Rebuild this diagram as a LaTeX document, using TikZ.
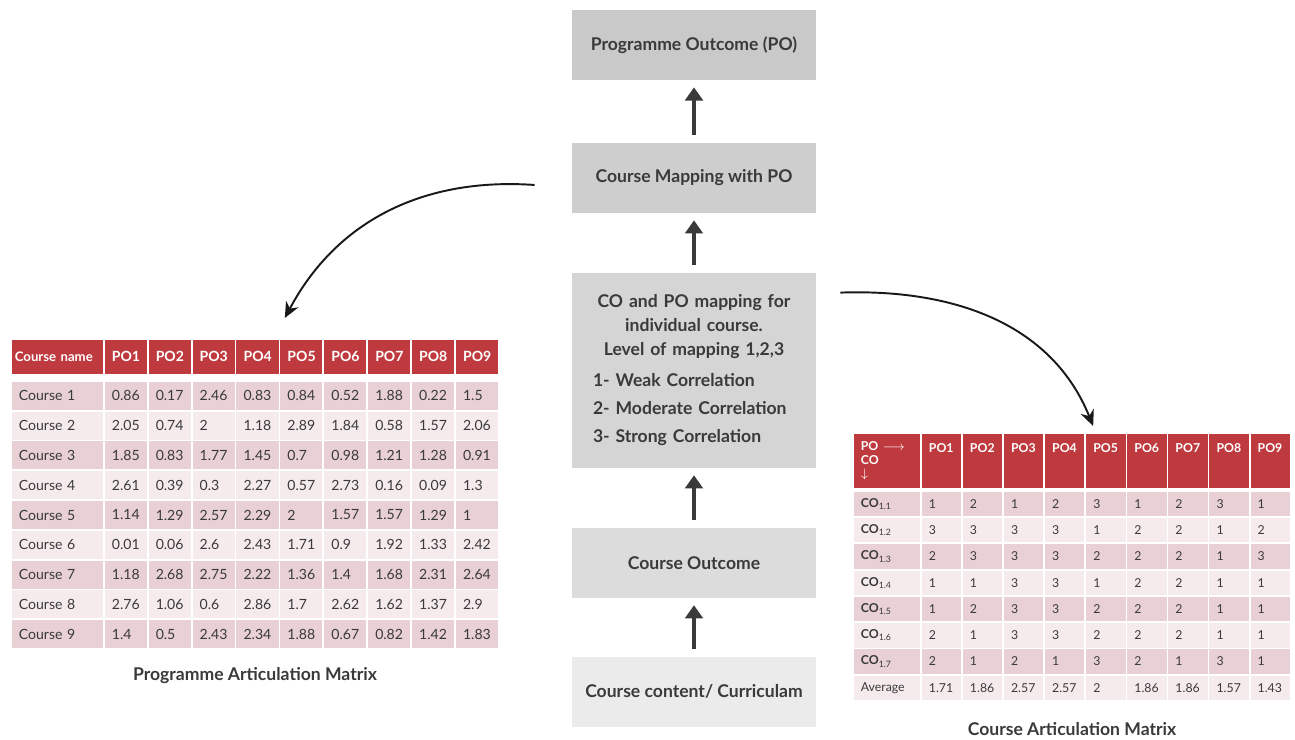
\documentclass[tikz,border=0pt]{standalone}
\usepackage{fontspec}
\setmainfont{Lato}
\usetikzlibrary{shapes,arrows,arrows.meta,positioning}

\definecolor{hdrred}{HTML}{BF3A3E}
\definecolor{rowpink}{HTML}{E8D0D5}
\definecolor{rowlight}{HTML}{F5EBED}
\definecolor{ink}{HTML}{3A3A3A}
\definecolor{boxa}{HTML}{C9C9C9}
\definecolor{boxb}{HTML}{CECECE}
\definecolor{boxc}{HTML}{D5D5D5}
\definecolor{boxd}{HTML}{DCDCDC}
\definecolor{boxe}{HTML}{EBEBEB}
\newcommand{\colabel}[1]{\textbf{CO}\textsubscript{1.#1}}

\tikzset{
  stage/.style={rectangle, minimum width=4.88cm, minimum height=1.4cm, text=ink,
    font=\fontsize{10}{13.6}\selectfont\bfseries},
  flow/.style={-{Triangle[width=10pt,length=7.5pt]}, line width=2.8pt, draw=ink,
    shorten <=0.16cm, shorten >=0.14cm},
  link/.style={-{Stealth[width=8pt,length=9pt]}, line width=1.1pt, draw=black!90},
  pamhead/.style={draw=white, line width=1pt, fill=hdrred, text=white, anchor=north west,
    minimum height=0.72cm, inner xsep=0.16cm, inner ysep=0pt, text width=#1,
    font=\fontsize{8}{9}\selectfont\bfseries},
  pamcell/.style={draw=white, line width=1pt, anchor=north west, text=ink,
    minimum height=0.596cm, inner xsep=0.16cm, inner ysep=0pt, text width=#1,
    font=\fontsize{8}{9}\selectfont},
  camhead/.style={pamhead=#1, minimum height=1.12cm, font=\fontsize{7}{7.6}\selectfont\bfseries},
  camcell/.style={pamcell=#1, minimum height=0.525cm, font=\fontsize{7}{8}\selectfont},
  caption/.style={text=ink, font=\fontsize{10}{12}\selectfont\bfseries}
}

\begin{document}
\begin{tikzpicture}[x=0.02cm, y=0.02cm]
  \useasboundingbox (0,0) rectangle (1295,-740);

  % centre column
  \node[stage, fill=boxa] (po) at (694,-45) {Programme Outcome (PO)};
  \node[stage, fill=boxb, below of=po, node distance=2.66cm] (cmap) {Course Mapping with PO};
  \node[stage, fill=boxc, below of=cmap, node distance=3.85cm, minimum height=3.9cm,
        text width=4.6cm] (mapco)
        {{\centering CO and PO mapping for\\individual course.\\Level of mapping 1,2,3\par}
         \vspace{4pt}
         {\raggedright\leftskip=0.28cm 1- Weak Correlation\\[2.4pt]2- Moderate Correlation\\[2.4pt]3- Strong Correlation\par}};
  \node[stage, fill=boxd, below of=mapco, node distance=3.85cm] (cout) {Course Outcome};
  \node[stage, fill=boxe, below of=cout, node distance=2.58cm] (ccont) {Course content/ Curriculam};

  \draw[flow] (ccont) -- (cout);
  \draw[flow] (cout) -- (mapco);
  \draw[flow] (mapco) -- (cmap);
  \draw[flow] (cmap) -- (po);

  % programme articulation matrix
  \node[pamhead=1.7cm, inner xsep=0.08cm, font=\fontsize{7.5}{9}\selectfont\bfseries] (pam-h-0) at (10,-338) {Course name};
  \foreach \cl in {1,...,9}
    \node[pamhead=0.558cm] (pam-h-\cl) at ({103+(\cl-1)*43.9},-338) {PO\cl};

  \foreach \vals [count=\rw] in {
      {0.86,0.17,2.46,0.83,0.84,0.52,1.88,0.22,1.5},
      {2.05,0.74,2,1.18,2.89,1.84,0.58,1.57,2.06},
      {1.85,0.83,1.77,1.45,0.7,0.98,1.21,1.28,0.91},
      {2.61,0.39,0.3,2.27,0.57,2.73,0.16,0.09,1.3},
      {1.14,1.29,2.57,2.29,2,1.57,1.57,1.29,1},
      {0.01,0.06,2.6,2.43,1.71,0.9,1.92,1.33,2.42},
      {1.18,2.68,2.75,2.22,1.36,1.4,1.68,2.31,2.64},
      {2.76,1.06,0.6,2.86,1.7,2.62,1.62,1.37,2.9},
      {1.4,0.5,2.43,2.34,1.88,0.67,0.82,1.42,1.83}}{
    \ifodd\rw \def\rowfill{rowpink}\else \def\rowfill{rowlight}\fi
    \node[pamcell=1.54cm, fill=\rowfill] (pam-\rw-0) at (10,{-380-(\rw-1)*29.8}) {Course \rw};
    \foreach \v [count=\cl] in \vals
      \node[pamcell=0.558cm, fill=\rowfill] (pam-\rw-\cl) at ({103+(\cl-1)*43.9},{-380-(\rw-1)*29.8}) {\v};
  }
  \node[caption] (pamcap) at (255,-676) {Programme Articulation Matrix};

  % course articulation matrix
  \node[camhead=1.04cm] (cam-h-0) at (852,-432) {PO $\longrightarrow$\\CO\\$\downarrow$};
  \foreach \cl in {1,...,9}
    \node[camhead=0.502cm, text height=0.4cm, text depth=0.72cm] (cam-h-\cl) at ({920+(\cl-1)*41.1},-432) {PO\cl};

  \foreach \vals [count=\rw] in {
      {1,2,1,2,3,1,2,3,1},
      {3,3,3,3,1,2,2,1,2},
      {2,3,3,3,2,2,2,1,3},
      {1,1,3,3,1,2,2,1,1},
      {1,2,3,3,2,2,2,1,1},
      {2,1,3,3,2,2,2,1,1},
      {2,1,2,1,3,2,1,3,1}}{
    \ifodd\rw \def\rowfill{rowpink}\else \def\rowfill{rowlight}\fi
    \node[camcell=1.04cm, fill=\rowfill] (cam-\rw-0) at (852,{-490-(\rw-1)*26.25}) {\colabel{\rw}};
    \foreach \v [count=\cl] in \vals
      \node[camcell=0.502cm, fill=\rowfill] (cam-\rw-\cl) at ({920+(\cl-1)*41.1},{-490-(\rw-1)*26.25}) {\v};
  }
  \node[camcell=1.04cm, fill=rowlight] (cam-8-0) at (852,{-490-7*26.25}) {Average};
  \foreach \v [count=\cl] in {1.71,1.86,2.57,2.57,2,1.86,1.86,1.57,1.43}
    \node[camcell=0.502cm, fill=rowlight] (cam-8-\cl) at ({920+(\cl-1)*41.1},{-490-7*26.25}) {\v};
  \node[caption] (camcap) at (1072,-729) {Course Articulation Matrix};

  % curved links
  \draw[link] ([xshift=-0.74cm,yshift=-0.14cm]cmap.west) to[out=176,in=62]
              ([xshift=0.09cm,yshift=0.4cm]pam-h-4.north east);
  \draw[link] ([xshift=0.48cm,yshift=-0.4cm]mapco.north east) to[out=2,in=112]
              ([xshift=0.14cm,yshift=0.12cm]cam-h-4.north east);
\end{tikzpicture}
\end{document}
